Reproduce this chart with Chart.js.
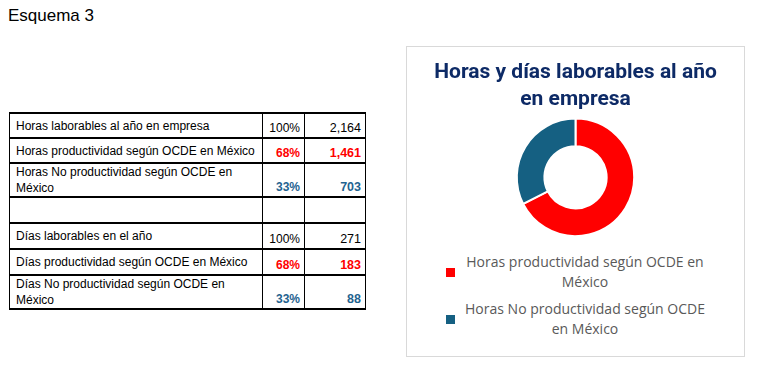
<!DOCTYPE html>
<html>
<head>
<meta charset="utf-8">
<script src="https://cdn.jsdelivr.net/npm/chart.js@4.4.1/dist/chart.umd.min.js"></script>
<style>
  body { margin: 0; width: 760px; height: 370px; background: #fff; position: relative; overflow: hidden; }
  #titulo { position: absolute; left: 8px; top: 6px; font: 17px 'Liberation Sans', Arial, sans-serif; color: #000; }
  table { position: absolute; left: 9px; top: 112px; border-collapse: collapse; font: 12px 'Liberation Sans', Arial, sans-serif; color: #000; }
  td { border-left: 1px solid #000; border-right: 1px solid #000; border-top: 2px solid #000; border-bottom: 2px solid #000; padding: 0; }
  td.lbl { width: 246px; padding-left: 6px; vertical-align: middle; line-height: 16px; }
  td.num { vertical-align: bottom; text-align: right; padding-right: 4px; padding-bottom: 2px; }
  td.c2 { width: 37px; }
  td.c3 { width: 56px; font-size: 12.5px; }
  .rojo { color: #ff0000; font-weight: bold; }
  .azul { color: #1f6390; font-weight: bold; }
  #caja { position: absolute; left: 406px; top: 46px; width: 337px; height: 309px; border: 1px solid #d9d9d9; }
  #lienzo { position: absolute; left: 0; top: 0; width: 337px; height: 190px; }
  #leyenda { position: absolute; left: 0; top: 205px; width: 337px; font: 14px 'Open Sans', sans-serif; color: #595959; }
  .item { display: flex; align-items: center; margin-left: 39px; margin-bottom: 7px; }
  .cuadro { width: 9px; height: 9px; margin-right: 6px; }
  .texto { width: 248px; text-align: center; line-height: 20px; }
</style>
</head>
<body>
<div id="titulo">Esquema 3</div>
<table id="tabla"></table>
<div id="caja">
  <div id="lienzo"><canvas id="dona"></canvas></div>
  <div id="leyenda"></div>
</div>
<script>
// Tabla
const filas = [
  'Horas laborables al año en empresa',
  'Horas productividad según OCDE en México',
  'Horas No productividad según OCDE en<br>México',
  '',
  'Días laborables en el año',
  'Días productividad según OCDE en México',
  'Días No productividad según OCDE en<br>México'
];
const porcentajes = ['100%', '68%', '33%', '', '100%', '68%', '33%'];
const valores = ['2,164', '1,461', '703', '', '271', '183', '88'];
const estilos = ['', 'rojo', 'azul', '', '', 'rojo', 'azul'];
const alturas = [25, 25, 33, 26, 26, 26, 31];

// Gráfico
const categorias = ['Horas productividad según OCDE en México', 'Horas No productividad según OCDE en México'];
const horas = [1461, 703];
const colores = ['#ff0000', '#156082'];

const tabla = document.getElementById('tabla');
filas.forEach((f, i) => {
  const tr = document.createElement('tr');
  tr.style.height = alturas[i] + 'px';
  tr.innerHTML = '<td class="lbl">' + f + '</td>' +
    '<td class="num c2 ' + estilos[i] + '">' + porcentajes[i] + '</td>' +
    '<td class="num c3 ' + estilos[i] + '">' + valores[i] + '</td>';
  tabla.appendChild(tr);
});

const dona = new Chart(document.getElementById('dona'), {
  type: 'doughnut',
  data: {
    labels: categorias,
    datasets: [{
      data: horas,
      backgroundColor: colores,
      borderColor: '#ffffff',
      borderWidth: 2
    }]
  },
  options: {
    responsive: true,
    maintainAspectRatio: false,
    animation: false,
    cutout: '53%',
    layout: { padding: 0 },
    plugins: {
      legend: { display: false },
      tooltip: { enabled: false },
      title: {
        display: true,
        text: ['Horas y días laborables al año', 'en empresa'],
        color: '#0d2a66',
        font: { family: 'Roboto', size: 21, weight: 'bold', lineHeight: 1.3 },
        padding: { top: 12, bottom: 4 }
      }
    }
  }
});

// Leyenda HTML a partir del gráfico
const leyenda = document.getElementById('leyenda');
dona.options.plugins.legend.labels.generateLabels(dona).forEach(it => {
  const d = document.createElement('div');
  d.className = 'item';
  d.innerHTML = '<span class="cuadro" style="background:' + it.fillStyle + '"></span><span class="texto">' + it.text + '</span>';
  leyenda.appendChild(d);
});
</script>
</body>
</html>
